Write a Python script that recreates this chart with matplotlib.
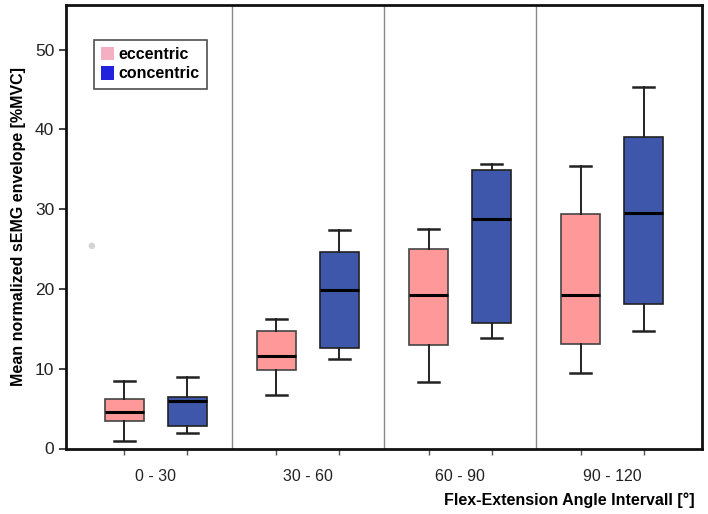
import matplotlib
matplotlib.use("Agg")
import matplotlib.pyplot as plt
from matplotlib.patches import Patch
import numpy as np

plt.rcParams['font.family'] = ['Liberation Sans', 'DejaVu Sans']

groups = ["0 - 30", "30 - 60", "60 - 90", "90 - 120"]
# eccentric: whisker low, Q1, median, Q3, whisker high
ecc_low = [1.0, 6.7, 8.3, 9.5]
ecc_q1 = [3.5, 9.8, 13.0, 13.1]
ecc_med = [4.6, 11.6, 19.2, 19.3]
ecc_q3 = [6.2, 14.7, 25.0, 29.4]
ecc_high = [8.5, 16.2, 27.5, 35.4]
# concentric
con_low = [1.9, 11.2, 13.9, 14.7]
con_q1 = [2.8, 12.6, 15.7, 18.1]
con_med = [6.0, 19.9, 28.8, 29.5]
con_q3 = [6.5, 24.6, 34.9, 39.1]
con_high = [9.0, 27.4, 35.7, 45.3]
# faint stray dot visible in the picture
stray_x = [-0.42]
stray_y = [25.4]

ecc_color = "#FF9999"
con_color = "#3F57AA"

fig = plt.figure(figsize=(7.08, 5.14), dpi=100)
ax = fig.add_axes([66/708, 1 - 448.5/514, (702-66)/708, (448.5-5)/514])

def stats(low, q1, med, q3, high, label):
    return [dict(whislo=a, q1=b, med=c, q3=d, whishi=e, fliers=[], label=label)
            for a, b, c, d, e in zip(low, q1, med, q3, high)]

centers = np.arange(len(groups))
off = 0.207
w = 0.256
ecc_pos = centers - off
con_pos = centers + off

common = dict(widths=w, patch_artist=True, showfliers=False,
              whiskerprops=dict(color='#222222', lw=1.4),
              capprops=dict(color='#222222', lw=1.8),
              medianprops=dict(color='black', lw=2.2),
              manage_ticks=False)
b1 = ax.bxp(stats(ecc_low, ecc_q1, ecc_med, ecc_q3, ecc_high, ''), positions=ecc_pos,
            boxprops=dict(facecolor=ecc_color, edgecolor='#444444', lw=1.2),
            capwidths=[w*0.55]*4, **common)
b2 = ax.bxp(stats(con_low, con_q1, con_med, con_q3, con_high, ''), positions=con_pos,
            boxprops=dict(facecolor=con_color, edgecolor='#222222', lw=1.2),
            capwidths=[w*0.55]*4, **common)

ax.scatter(stray_x, stray_y, s=22, color='#d4d4d4', edgecolors='none', zorder=1)

for sep in centers[:-1] + 0.5:
    ax.axvline(sep, color='#888888', lw=1.0, zorder=0)

ax.set_xlim(-0.59, 3.59)
ax.set_ylim(0, 55.6)
ax.set_yticks([0, 10, 20, 30, 40, 50])
ax.tick_params(axis='y', labelsize=12.5, length=5, width=1.2, direction='out', colors='#222222')

pos_all = np.sort(np.concatenate([ecc_pos, con_pos]))
ax.set_xticks(pos_all)
ax.set_xticklabels([''] * len(pos_all))
ax.tick_params(axis='x', which='major', length=4, width=1.0, direction='out', colors='#555555')
ax.set_xticks(centers, minor=True)
ax.set_xticklabels(groups, minor=True)
ax.tick_params(axis='x', which='minor', length=0, labelsize=11.5, pad=15, labelcolor='#222222')

for s in ax.spines.values():
    s.set_linewidth(2.0)
    s.set_color('#111111')

ax.set_ylabel("Mean normalized sEMG envelope [%MVC]", fontsize=11.5, fontweight='bold', labelpad=6)
fig.text(695/708, 1 - 500/514, "Flex-Extension Angle Intervall [°]", fontsize=11.5,
         fontweight='bold', ha='right', va='center')

handles = [Patch(facecolor='#F4AFC2', edgecolor='none', label='eccentric'),
           Patch(facecolor='#2222DD', edgecolor='none', label='concentric')]
leg = ax.legend(handles=handles, loc='upper left', bbox_to_anchor=((94-66)/636, 1 - (40-5)/443.5),
                prop=dict(weight='bold', size=11.5), frameon=True, fancybox=False,
                edgecolor='#222222', handlelength=0.8, handleheight=0.9, handletextpad=0.3,
                borderpad=0.45, labelspacing=0.25, borderaxespad=0)
leg.get_frame().set_linewidth(1.2)

fig.savefig("out.png", dpi=100)
